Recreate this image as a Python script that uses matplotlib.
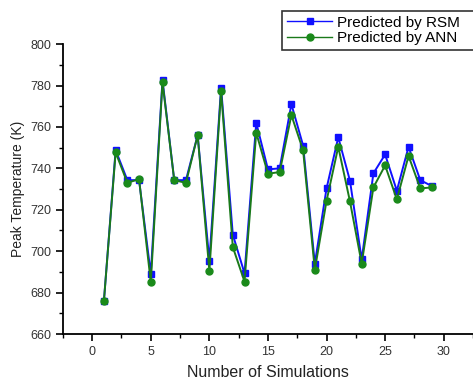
import matplotlib
matplotlib.use("Agg")
import matplotlib.pyplot as plt
from matplotlib.ticker import MultipleLocator

plt.rcParams["font.family"] = ["Liberation Sans", "DejaVu Sans"]

# ─── Data ─────────────────────────────────────────────────────────────────────

runs = list(range(1, 30))

rsm = [676.0, 748.8, 734.3, 734.3, 689.0, 782.6, 734.3, 734.3, 756.0, 695.4,
       779.0, 708.0, 689.3, 762.0, 739.5, 740.0, 771.0, 751.0, 694.0, 730.3,
       755.0, 734.0, 696.0, 737.6, 746.7, 729.2, 750.4, 734.3, 731.4]

ann = [676.0, 747.7, 733.0, 734.8, 685.0, 781.6, 734.3, 733.0, 756.0, 690.4,
       777.3, 702.0, 685.3, 757.2, 737.4, 738.2, 765.7, 748.7, 691.0, 724.3,
       750.4, 724.0, 694.0, 730.8, 741.4, 725.0, 746.0, 730.3, 730.8]

# ─── Plot ─────────────────────────────────────────────────────────────────────

fig = plt.figure(figsize=(4.73, 3.8), dpi=100)
ax = fig.add_axes([0.133, 0.121, 0.867, 0.763])

ax.plot(runs, rsm, color="#1010ff", linewidth=1.4, marker="s", markersize=5,
        markerfacecolor="#1010ff", markeredgecolor="#1010ff", label="Predicted by RSM")
ax.plot(runs, ann, color="#1a7a1a", linewidth=1.4, marker="o", markersize=5,
        markerfacecolor="#1a8a1a", markeredgecolor="#1a8a1a", label="Predicted by ANN")

ax.set_xlim(-2.5, 32.5)
ax.set_ylim(660, 800)
ax.xaxis.set_major_locator(MultipleLocator(5))
ax.xaxis.set_minor_locator(MultipleLocator(2.5))
ax.yaxis.set_major_locator(MultipleLocator(20))
ax.yaxis.set_minor_locator(MultipleLocator(10))

for side in ("top", "right"):
    ax.spines[side].set_visible(False)
for side in ("left", "bottom"):
    ax.spines[side].set_linewidth(1.3)

ax.tick_params(which="major", direction="out", length=5, width=1.2,
               labelsize=9, labelcolor="#333333")
ax.tick_params(which="minor", direction="out", length=3, width=1.0)

ax.set_xlabel("Number of Simulations", fontsize=11.5, color="#222222", labelpad=5)
ax.set_ylabel("Peak Temperature (K)", fontsize=10, color="#222222", labelpad=4)

# legend box runs off the right edge, as in the source image
leg = fig.legend(loc="upper left", bbox_to_anchor=(282 / 473, 1 - 11 / 380, 0.45, 0),
                 mode="expand", fontsize=11, frameon=True, fancybox=False,
                 handlelength=3.0, borderpad=0.3, labelspacing=0.1,
                 handletextpad=0.3, borderaxespad=0)
leg.get_frame().set_edgecolor("black")
leg.get_frame().set_linewidth(1.2)
for line in leg.get_lines():
    line.set_linewidth(1.0)

fig.savefig("out.png", dpi=100)
